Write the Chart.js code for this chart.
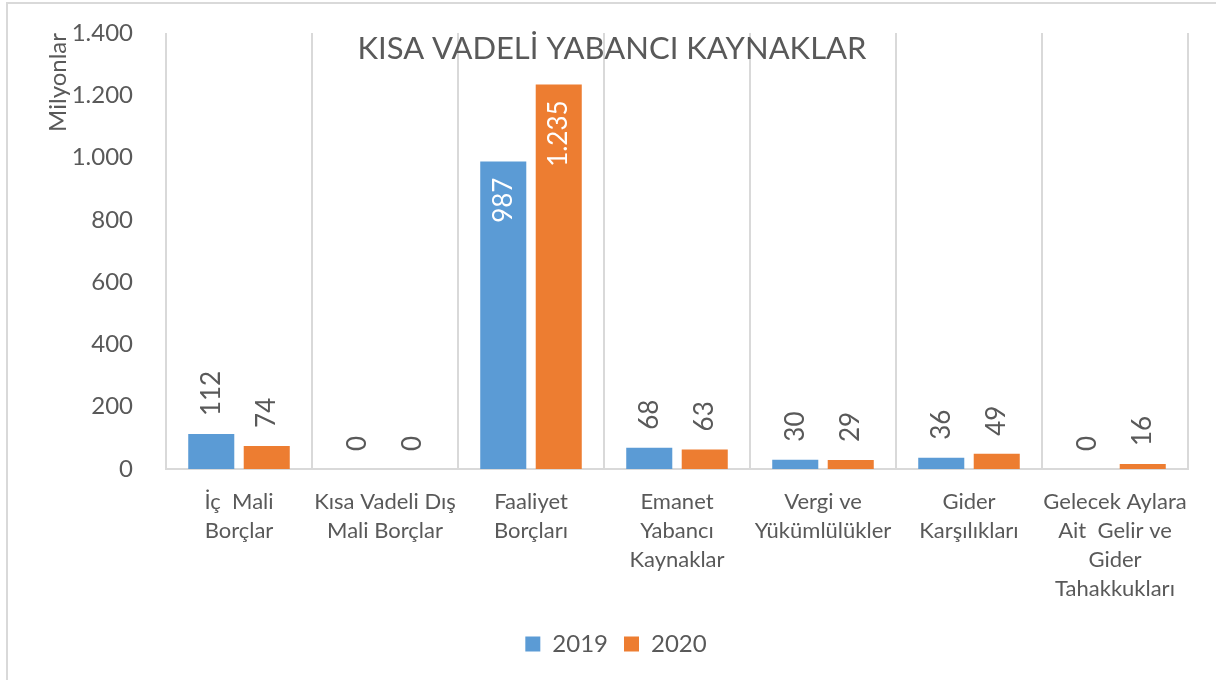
<!DOCTYPE html>
<html lang="tr">
<head>
<meta charset="utf-8">
<title>Kısa Vadeli Yabancı Kaynaklar</title>
<script src="https://cdn.jsdelivr.net/npm/chart.js@4/dist/chart.umd.min.js"></script>
<style>
	html, body { margin: 0; padding: 0; background: #fff; overflow: hidden; }
	#wrap { width: 1216px; height: 680px; position: relative; }
</style>
</head>
<body>
<div id="wrap"><canvas id="chart"></canvas></div>
<script>
// Data (Milyonlar)
const chartTitle = "KISA VADELİ YABANCI KAYNAKLAR";
const categories = [
	["İç  Mali", "Borçlar"],
	["Kısa Vadeli Dış", "Mali Borçlar"],
	["Faaliyet", "Borçları"],
	["Emanet", "Yabancı", "Kaynaklar"],
	["Vergi ve", "Yükümlülükler"],
	["Gider", "Karşılıkları"],
	["Gelecek Aylara", "Ait  Gelir ve", "Gider", "Tahakkukları"]
];
const seriesNames = ["2019", "2020"];
const values2019 = [112, 0, 987, 68, 30, 36, 0];
const values2020 = [74, 0, 1235, 63, 29, 49, 16];
const yMin = 0;
const yMax = 1400;
const yStep = 200;

const FONT = "Lato, 'Open Sans', sans-serif";
const GRAY = "#595959";
const GRID = "#D9D9D9";

// Turkish thousands separator: 1235 -> 1.235
function formatTr(v) {
	return String(Math.round(v)).replace(/\B(?=(\d{3})+(?!\d))/g, ".");
}

// Outer chart border + title drawn over the plot area like Excel does
const frameAndTitle = {
	id: "frameAndTitle",
	beforeDraw(chart) {
		const ctx = chart.ctx;
		ctx.save();
		ctx.strokeStyle = GRID;
		ctx.lineWidth = 2;
		ctx.strokeRect(7, 3, 1300, 800);
		ctx.restore();
	},
	afterDraw(chart) {
		const ctx = chart.ctx;
		ctx.save();
		ctx.font = "31px " + FONT;
		ctx.fillStyle = GRAY;
		ctx.textAlign = "center";
		ctx.textBaseline = "alphabetic";
		ctx.fillText(chartTitle, 612, 59);
		ctx.restore();
	}
};

// Rotated value labels: inside end (white) for tall bars, outside end otherwise
const barLabels = {
	id: "barLabels",
	afterDatasetsDraw(chart) {
		const ctx = chart.ctx;
		ctx.save();
		ctx.font = "26px " + FONT;
		ctx.textBaseline = "middle";
		chart.data.datasets.forEach((ds, i) => {
			const meta = chart.getDatasetMeta(i);
			meta.data.forEach((bar, j) => {
				const v = ds.data[j];
				const inside = v > (yMax - yMin) / 3;
				ctx.save();
				ctx.translate(bar.x, inside ? bar.y + 16 : bar.y - 18);
				ctx.rotate(-Math.PI / 2);
				ctx.fillStyle = inside ? "#ffffff" : GRAY;
				ctx.textAlign = inside ? "right" : "left";
				ctx.fillText(formatTr(v), 0, 0);
				ctx.restore();
			});
		});
		ctx.restore();
	}
};

// Fix the legend box height and nudge it right, as in the reference
const legendTweaks = {
	id: "legendTweaks",
	beforeInit(chart) {
		const legend = chart.legend;
		if (!legend) return;
		const fit = legend.fit;
		legend.fit = function () {
			fit.call(this);
			this.height = 64;
		};
		const draw = legend.draw;
		legend.draw = function () {
			this.ctx.save();
			this.ctx.translate(22, 0);
			draw.call(this);
			this.ctx.restore();
		};
	}
};

const ctx = document.getElementById("chart").getContext("2d");
const myBarChart = new Chart(ctx, {
	type: "bar",
	data: {
		labels: categories,
		datasets: [
			{
				label: seriesNames[0],
				data: values2019,
				backgroundColor: "#5B9BD5",
			},
			{
				label: seriesNames[1],
				data: values2020,
				backgroundColor: "#ED7D31",
			},
		],
	},
	options: {
		responsive: true,
		maintainAspectRatio: false,
		animation: false,
		devicePixelRatio: 1,
		layout: {
			padding: { top: 33, right: 28, bottom: 0, left: 0 },
		},
		datasets: {
			bar: {
				categoryPercentage: 0.76,
				barPercentage: 0.83,
			},
		},
		scales: {
			x: {
				grid: {
					offset: true,
					color: GRID,
					lineWidth: 2,
					drawTicks: false,
				},
				border: { color: GRID, width: 2 },
				ticks: {
					color: GRAY,
					padding: 18,
					maxRotation: 0,
					autoSkip: false,
					font: { family: FONT, size: 22, lineHeight: 1.32 },
				},
				afterFit(scale) {
					scale.height = 147;
				},
			},
			y: {
				min: yMin,
				max: yMax,
				grid: { display: false },
				border: { display: false },
				ticks: {
					stepSize: yStep,
					color: GRAY,
					padding: 25,
					font: { family: FONT, size: 24 },
					callback: v => formatTr(v),
				},
				title: {
					display: true,
					text: "Milyonlar",
					align: "end",
					color: GRAY,
					padding: { top: 44 },
					font: { family: FONT, size: 24 },
				},
				afterFit(scale) {
					scale.width = 166;
					scale.paddingTop = 0;
					scale.paddingBottom = 0;
				},
			},
		},
		plugins: {
			legend: {
				position: "bottom",
				labels: {
					color: GRAY,
					boxWidth: 15,
					boxHeight: 15,
					padding: 16,
					font: { family: FONT, size: 24 },
				},
			},
			tooltip: { enabled: false },
		},
	},
	plugins: [frameAndTitle, barLabels, legendTweaks],
});
</script>
</body>
</html>
